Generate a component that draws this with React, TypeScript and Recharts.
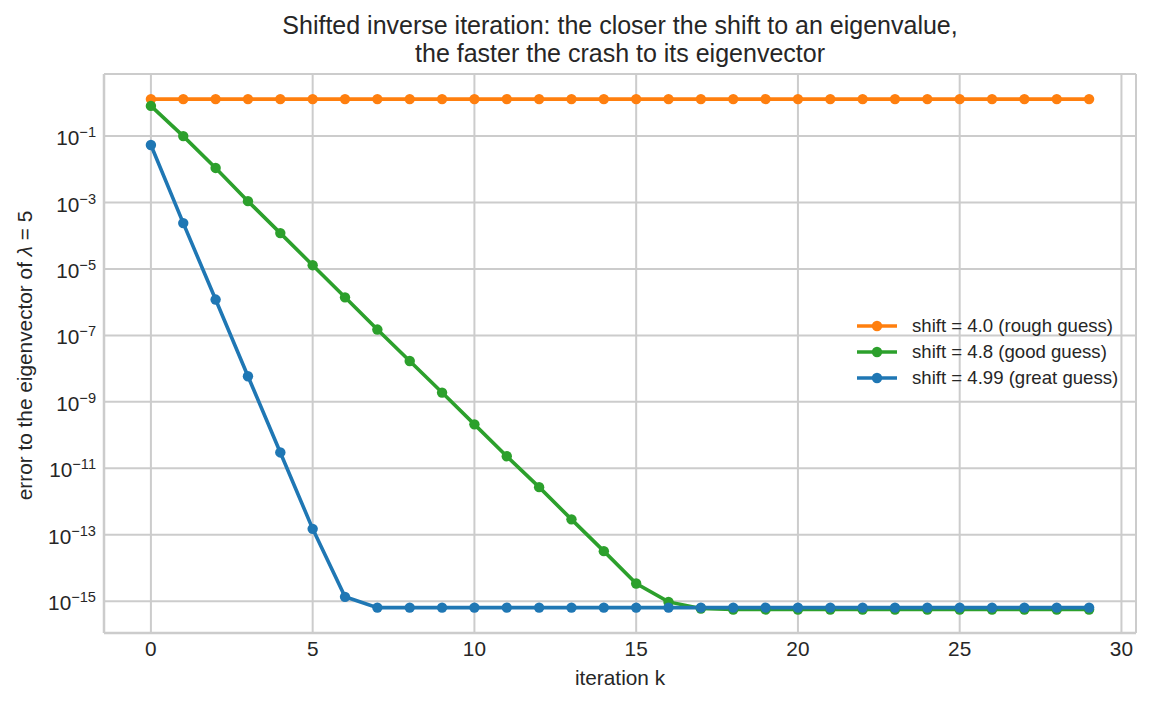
import React from 'react';
import { LineChart, Line, XAxis, YAxis, CartesianGrid, Label } from 'recharts';

const ITERATIONS = [0, 1, 2, 3, 4, 5, 6, 7, 8, 9, 10, 11, 12, 13, 14, 15, 16, 17, 18, 19, 20, 21, 22, 23, 24, 25, 26, 27, 28, 29];

// shift = 4.0, stuck near the wrong eigenvector
const ROUGH = [
  1.3, 1.3, 1.3, 1.3, 1.3, 1.3, 1.3, 1.3, 1.3, 1.3,
  1.3, 1.3, 1.3, 1.3, 1.3, 1.3, 1.3, 1.3, 1.3, 1.3,
  1.3, 1.3, 1.3, 1.3, 1.3, 1.3, 1.3, 1.3, 1.3, 1.3,
];

// shift = 4.8
const GOOD = [
  0.81, 0.1, 0.011, 1.1e-3, 1.2e-4, 1.3e-5, 1.4e-6, 1.5e-7, 1.7e-8, 1.9e-9,
  2.1e-10, 2.3e-11, 2.7e-12, 2.9e-13, 3.2e-14, 3.4e-15, 9.5e-16, 6.0e-16, 5.6e-16, 5.6e-16,
  5.6e-16, 5.6e-16, 5.6e-16, 5.6e-16, 5.6e-16, 5.6e-16, 5.6e-16, 5.6e-16, 5.6e-16, 5.6e-16,
];

// shift = 4.99
const GREAT = [
  0.054, 2.4e-4, 1.2e-6, 5.9e-9, 3.0e-11, 1.5e-13, 1.35e-15, 6.4e-16, 6.4e-16, 6.4e-16,
  6.4e-16, 6.4e-16, 6.4e-16, 6.4e-16, 6.4e-16, 6.4e-16, 6.4e-16, 6.4e-16, 6.4e-16, 6.4e-16,
  6.4e-16, 6.4e-16, 6.4e-16, 6.4e-16, 6.4e-16, 6.4e-16, 6.4e-16, 6.4e-16, 6.4e-16, 6.4e-16,
];

const X_TICKS = [0, 5, 10, 15, 20, 25, 30];
const Y_TICKS = [1e-1, 1e-3, 1e-5, 1e-7, 1e-9, 1e-11, 1e-13, 1e-15];

const SERIES = [
  { key: 'rough', name: 'shift = 4.0 (rough guess)', color: '#ff7f0e' },
  { key: 'good', name: 'shift = 4.8 (good guess)', color: '#2ca02c' },
  { key: 'great', name: 'shift = 4.99 (great guess)', color: '#1f77b4' },
];

const data = ITERATIONS.map((k, i) => ({ k, rough: ROUGH[i], good: GOOD[i], great: GREAT[i] }));

const TEXT = '#262626';
const GRID = '#cccccc';
const FONT = '"Liberation Sans", Arial, sans-serif';

const LogTick = ({ x, y, payload }: any) => {
  const exp = Math.round(Math.log10(payload.value));
  return (
    <text x={x} y={y + 9} textAnchor="end" fill={TEXT} fontSize={20.8} fontFamily={FONT}>
      10
      <tspan dy={-8} fontSize={14.6}>{`\u2212${-exp}`}</tspan>
    </text>
  );
};

const YTitle = ({ viewBox }: any) => {
  const cx = viewBox.x + 32;
  const cy = viewBox.y + viewBox.height / 2 + 2;
  return (
    <text transform={`translate(${cx},${cy}) rotate(-90)`} textAnchor="middle" fill={TEXT} fontSize={20.8} fontFamily={FONT}>
      error to the eigenvector of <tspan fontStyle="italic">λ</tspan> = 5
    </text>
  );
};

const XTitle = ({ viewBox }: any) => (
  <text x={viewBox.x + viewBox.width / 2} y={viewBox.y + 52} textAnchor="middle" fill={TEXT} fontSize={20.8} fontFamily={FONT}>
    iteration k
  </text>
);

const LegendBox = () => (
  <div style={{ position: 'absolute', left: 855, top: 313, fontFamily: FONT, fontSize: 18.6, color: TEXT }}>
    {SERIES.map((s) => (
      <div key={s.key} style={{ display: 'flex', alignItems: 'center', height: 26 }}>
        <svg width={44} height={14} style={{ marginRight: 13 }}>
          <line x1={2} y1={7} x2={42} y2={7} stroke={s.color} strokeWidth={3.6} />
          <circle cx={22} cy={7} r={5.2} fill={s.color} />
        </svg>
        <span>{s.name}</span>
      </div>
    ))}
  </div>
);

export default function App() {
  return (
    <div style={{ position: 'absolute', left: 0, top: 0, width: 1151, height: 703, background: '#fff', fontFamily: FONT }}>
      <div
        style={{
          position: 'absolute',
          left: 104,
          width: 1032,
          top: 11,
          textAlign: 'center',
          fontSize: 25,
          lineHeight: '28px',
          color: TEXT,
        }}
      >
        Shifted inverse iteration: the closer the shift to an eigenvalue,
        <br />
        the faster the crash to its eigenvector
      </div>
      <LineChart width={1151} height={703} data={data} margin={{ top: 74, right: 15, bottom: 0, left: 0 }}>
        <CartesianGrid stroke={GRID} strokeWidth={2} />
        <XAxis
          dataKey="k"
          type="number"
          domain={[-1.45, 30.45]}
          allowDataOverflow
          ticks={X_TICKS}
          height={70}
          tickLine={false}
          axisLine={{ stroke: GRID, strokeWidth: 2.5 }}
          tick={{ fill: TEXT, fontSize: 20.8, fontFamily: FONT }}
        >
          <Label content={XTitle} />
        </XAxis>
        <XAxis
          xAxisId="top"
          orientation="top"
          type="number"
          domain={[-1.45, 30.45]}
          height={0}
          tick={false}
          tickLine={false}
          axisLine={{ stroke: GRID, strokeWidth: 2.5 }}
        />
        <YAxis
          scale="log"
          type="number"
          domain={[1.1e-16, 7.4]}
          allowDataOverflow
          ticks={Y_TICKS}
          width={104}
          tickLine={false}
          axisLine={{ stroke: GRID, strokeWidth: 2.5 }}
          tick={<LogTick />}
        >
          <Label content={YTitle} />
        </YAxis>
        <YAxis
          yAxisId="right"
          orientation="right"
          width={0}
          tick={false}
          tickLine={false}
          axisLine={{ stroke: GRID, strokeWidth: 2.5 }}
        />
        {SERIES.map((s) => (
          <Line
            key={s.key}
            type="linear"
            dataKey={s.key}
            name={s.name}
            stroke={s.color}
            strokeWidth={3.6}
            dot={{ r: 5.2, fill: s.color, stroke: s.color, strokeWidth: 0 }}
            activeDot={false}
            isAnimationActive={false}
          />
        ))}
      </LineChart>
      <LegendBox />
    </div>
  );
}
